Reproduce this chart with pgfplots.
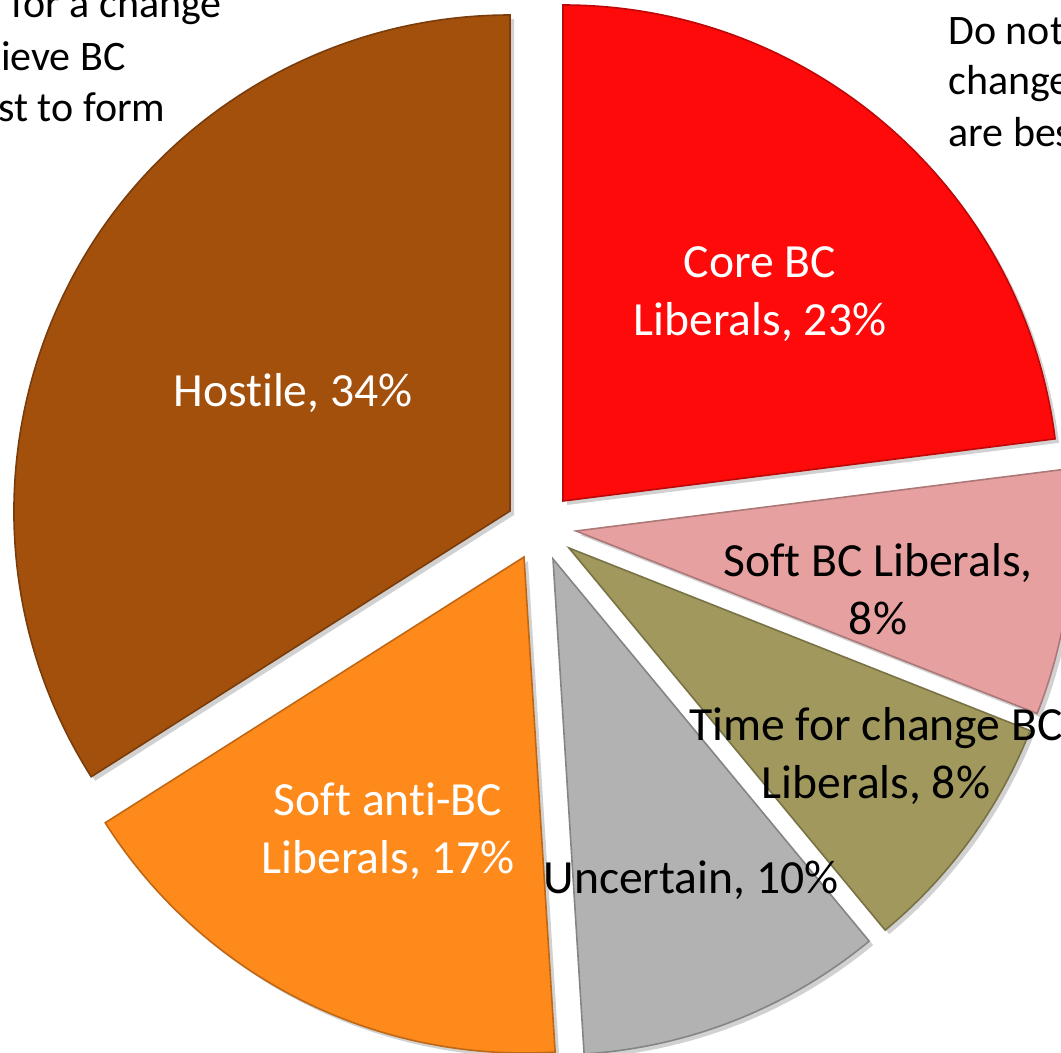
\documentclass[border=0pt]{standalone}
\usepackage{pgfplots}
\pgfplotsset{compat=1.18}
\usepackage{fontspec}
\setmainfont{Carlito}[Ligatures={NoCommon,NoRare,NoDiscretionary}]

\definecolor{coreBC}{RGB}{254,10,10}
\definecolor{softBC}{RGB}{230,160,160}
\definecolor{timeBC}{RGB}{160,152,92}
\definecolor{uncert}{RGB}{178,178,178}
\definecolor{softanti}{RGB}{255,138,28}
\definecolor{hostile}{RGB}{163,80,13}

% 1 px of the reference = 0.5pt, radius 496 px
\newcommand{\pierad}{248pt}
% #1,#2 vertex (px), #3 cumulative share before slice (%), #4 share (%), #5 colour
\newcommand{\slice}[5]{%
  \fill[black, opacity=0.18, xshift=2pt, yshift=-2pt]
    (axis cs:#1,#2) -- ++({90-3.6*#3}:\pierad)
    arc[start angle={90-3.6*#3}, end angle={90-3.6*(#3+#4)}, radius=\pierad] -- cycle;
  \fill[#5, draw=#5!75!black, line width=0.8pt]
    (axis cs:#1,#2) -- ++({90-3.6*#3}:\pierad)
    arc[start angle={90-3.6*#3}, end angle={90-3.6*(#3+#4)}, radius=\pierad] -- cycle;
}

\begin{document}
\begin{tikzpicture}
\useasboundingbox (0,0) rectangle (530.5pt,526.5pt);
\clip (0,0) rectangle (530.5pt,526.5pt);
\begin{axis}[
    at={(0,0)}, anchor=south west,
    width=530.5pt, height=526.5pt, scale only axis,
    xmin=0, xmax=1061, ymin=0, ymax=1053, y dir=reverse,
    hide axis, clip=false
]
% vertex x, vertex y, start (%), share (%)
\slice{563}{501}{0}{23}{coreBC}
\slice{576}{531}{23}{8}{softBC}
\slice{569}{548}{31}{8}{timeBC}
\slice{553}{559}{39}{10}{uncert}
\slice{524}{557}{49}{17}{softanti}
\slice{510}{511}{66}{34}{hostile}

\begin{scope}[every node/.style={font=\fontsize{23.8}{29}\selectfont, align=center, inner sep=0pt}]
\node[text=white] at (axis cs:760,294) {Core BC\\Liberals, 23\%};
\node[text=white] at (axis cs:293,393) {Hostile, 34\%};
\node[text=black] at (axis cs:878,589) {Soft BC Liberals,\\8\%};
\node[text=black] at (axis cs:876,756) {Time for change BC\\Liberals, 8\%};
\node[text=white] at (axis cs:388,831) {Soft anti-BC\\Liberals, 17\%};
\node[text=black] at (axis cs:691,880) {Uncertain, 10\%};
\end{scope}

\begin{scope}[every node/.style={font=\fontsize{21}{26}\selectfont, inner sep=0pt}]
\node[anchor=base east] at (axis cs:222,18) {for a change};
\node[anchor=base east] at (axis cs:126,71) {believe BC};
\node[anchor=base east] at (axis cs:166,122) {Liberals best to form};
\node[anchor=base west] at (axis cs:948,45) {Do not think a};
\node[anchor=base west] at (axis cs:948,95) {change is needed};
\node[anchor=base west] at (axis cs:948,147) {are best};
\end{scope}
\end{axis}
\end{tikzpicture}
\end{document}
